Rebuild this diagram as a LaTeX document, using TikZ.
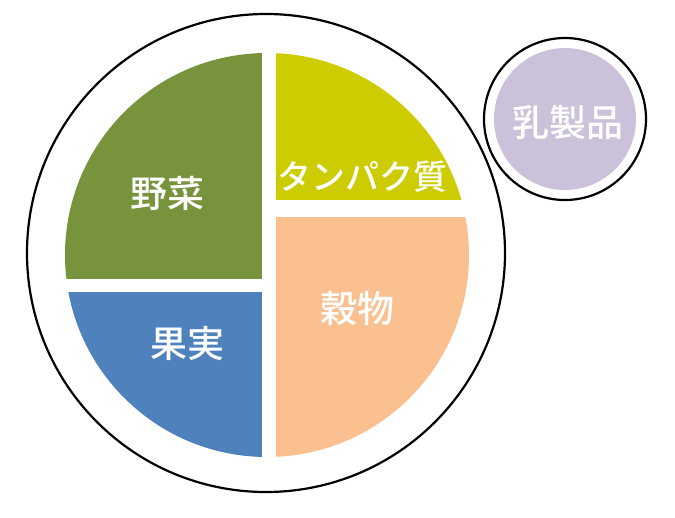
\documentclass[tikz,border=0pt]{standalone}
\usepackage{fontspec}
\IfFontExistsTF{Noto Sans CJK JP Medium}
	{\newfontfamily\jpfont{Noto Sans CJK JP Medium}}
	{\newfontfamily\jpfont{Noto Sans CJK JP}[UprightFont={* Bold}]}
\definecolor{veggiegreen}{HTML}{77933C}
\definecolor{proteinyellow}{HTML}{CCCC00}
\definecolor{fruitblue}{HTML}{4F81BD}
\definecolor{grainpeach}{HTML}{FAC090}
\definecolor{dairylilac}{HTML}{CCC1DA}
\tikzset{
	foodlabel/.style={text=white, inner sep=0pt, font=\jpfont\fontsize{37}{40}\selectfont},
	rim/.style={draw=black, line width=2.2pt}
}
\begin{document}
\begin{tikzpicture}[x=1pt,y=-1pt]
	\useasboundingbox (0,0) rectangle (675,517);
	
	% PLATE
	\coordinate (plate) at (266,253);
	\coordinate (pie) at (267,255);
	\draw [rim] (plate) circle (239);
	
	% Four sections, cut out of one disc
	\begin{scope}
		\clip (pie) circle (202);
		\fill [veggiegreen]   (0,0)     rectangle (262,279);
		\fill [fruitblue]     (0,292)   rectangle (262,517);
		\fill [proteinyellow] (276,0)   rectangle (675,200);
		\fill [grainpeach]    (276,217) rectangle (675,517);
	\end{scope}
	
	\node [foodlabel] at (167,193) (veggie)  {野菜};
	\node [foodlabel] at (187,344) (fruit)   {果実};
	\node [foodlabel, font=\jpfont\fontsize{34}{38}\selectfont] at (362,177) (protein) {タンパク質};
	\node [foodlabel] at (357,308) (grain)   {穀物};
	
	% CUP
	\coordinate (cup) at (565,119);
	\draw [rim] (cup) circle (81);
	\fill [dairylilac] (cup) circle (71);
	\node [foodlabel] at (568,122) (dairy) {乳製品};
	
\end{tikzpicture}
\end{document}
